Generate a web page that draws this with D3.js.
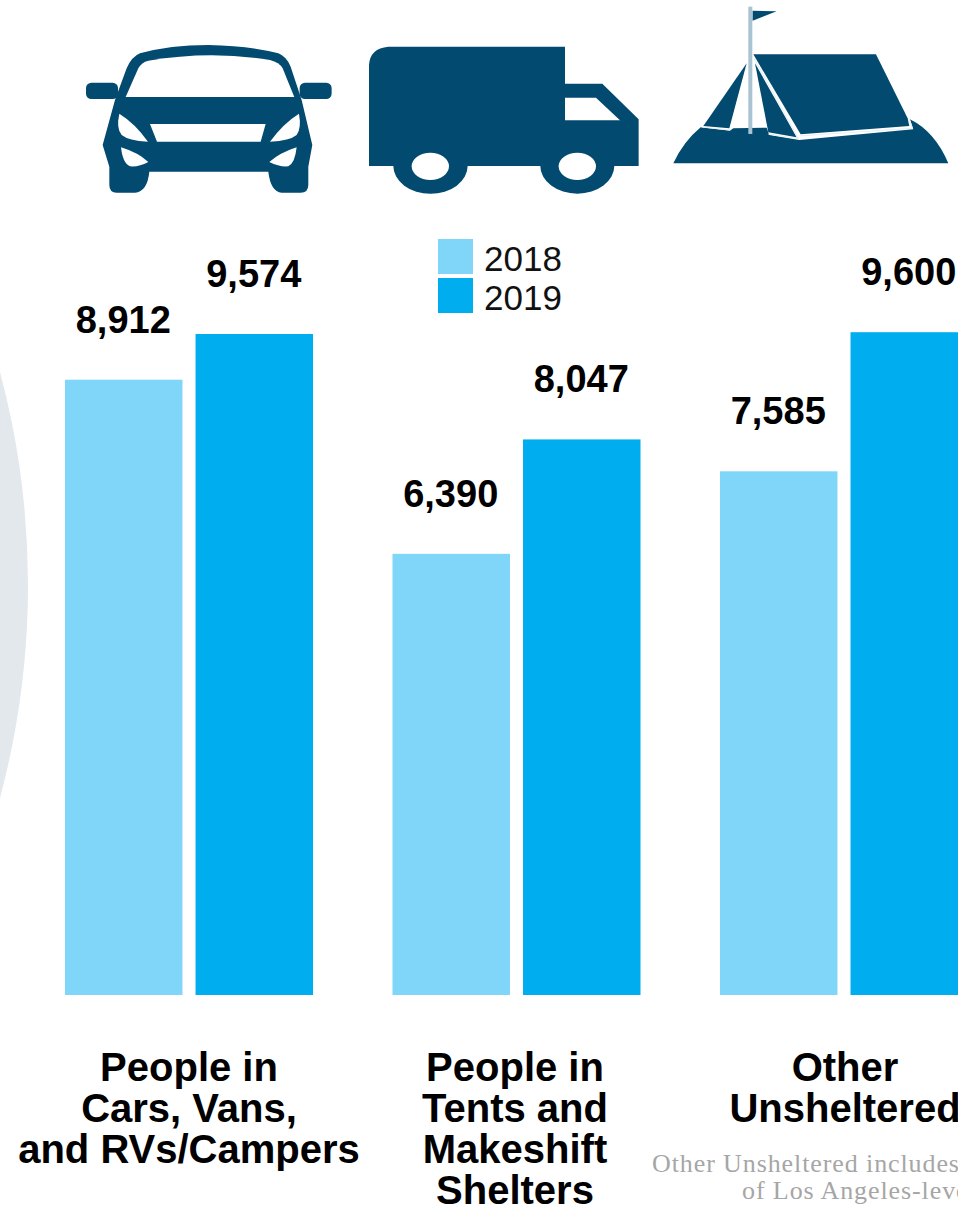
<!DOCTYPE html>
<html><head><meta charset="utf-8">
<style>html,body{margin:0;padding:0;background:#fff;overflow:hidden}svg{display:block}</style>
<script src="https://cdnjs.cloudflare.com/ajax/libs/d3/7.8.5/d3.min.js"></script>
</head><body><svg id="c" width="958" height="1205"></svg>
<script>
const categories = ["cars","tents","other"];
const categoryLines = [["People in","Cars, Vans,","and RVs/Campers"],["People in","Tents and","Makeshift","Shelters"],["Other","Unsheltered"]];
const years = ["2018","2019"];
const values2018 = [8912,6390,7585];
const values2019 = [9574,8047,9600];
const footnote = ["Other Unsheltered includes","of Los Angeles-level"];

const NAVY="#024a70", LIGHT="#7fd6f9", BLUE="#00aeef";
const svg=d3.select("#c");
const sans='"Liberation Sans",Arial,sans-serif';

// background disc
svg.append("circle").attr("cx",-796).attr("cy",585).attr("r",824).attr("fill","#e2e8ec");

// scales
const x0=d3.scaleBand().domain(categories).range([65,968]).paddingInner(0.2427);
const x1=d3.scaleBand().domain(years).range([0,x0.bandwidth()]).paddingInner(0.1);
const y=d3.scaleLinear().domain([0,9574]).range([995,334]);
const color=d3.scaleOrdinal().domain(years).range([LIGHT,BLUE]);
const fmt=d3.format(",");
const rows=categories.flatMap((c,i)=>[{c,year:"2018",v:values2018[i]},{c,year:"2019",v:values2019[i]}]);

svg.selectAll("rect.bar").data(rows).join("rect").attr("class","bar")
 .attr("x",d=>x0(d.c)+x1(d.year)).attr("width",x1.bandwidth())
 .attr("y",d=>y(d.v)).attr("height",d=>y(0)-y(d.v)).attr("fill",d=>color(d.year));

svg.selectAll("text.val").data(rows).join("text").attr("class","val")
 .attr("x",d=>x0(d.c)+x1(d.year)+x1.bandwidth()/2-0.5)
 .attr("y",d=>y(d.v)-47).attr("text-anchor","middle")
 .attr("font-family",sans).attr("font-weight",700).attr("font-size",38)
 .attr("fill","#000").text(d=>fmt(d.v));

// category labels
categories.forEach((c,i)=>{
  categoryLines[i].forEach((l,j)=>{
    svg.append("text").attr("x",x0(c)+x0.bandwidth()/2+[0,-1.5,1][i]).attr("y",1081+j*41)
     .attr("text-anchor","middle").attr("font-family",sans).attr("font-weight",700)
     .attr("font-size",40).attr("fill","#000").text(l);
  });
});

// legend
const lg=svg.append("g");
years.forEach((yr,i)=>{
  lg.append("rect").attr("x",438).attr("y",239+i*39).attr("width",35).attr("height",35).attr("fill",color(yr));
  lg.append("text").attr("x",484).attr("y",271+i*39).attr("font-family",sans).attr("font-size",35).attr("fill","#111").text(yr);
});

// footnote
svg.selectAll("text.note").data(footnote).join("text").attr("class","note")
 .attr("x",(d,i)=>[652,742][i]).attr("y",(d,i)=>[1172,1199][i])
 .attr("font-family",'"Liberation Serif",serif').attr("font-size",26).attr("letter-spacing",0.9).attr("fill","#a6a6a6").text(d=>d);

// car icon (traced in 3x crop coordinates)
const car=svg.append("g").attr("transform","translate(60,0) scale(0.3333)");
car.append("path").attr("fill",NAVY).attr("d","M165 300 L200 205 Q215 170 240 160 Q330 135 445 135 Q570 137 655 160 Q680 170 692 200 L725 300 L757 435 L745 500 L745 555 Q745 578 722 578 L665 578 Q632 575 625 515 L268 515 Q262 575 225 578 L170 578 Q148 578 148 555 L148 500 L128 435 Z");
car.append("rect").attr("fill",NAVY).attr("x",78).attr("y",248).attr("width",96).attr("height",49).attr("rx",16);
car.append("rect").attr("fill",NAVY).attr("x",719).attr("y",248).attr("width",96).attr("height",49).attr("rx",16);
[
 "M197 291 L703 291 L668 205 Q658 187 630 180 Q450 150 265 182 Q245 187 235 205 Z",
 "M178 341 Q225 370 264 425 Q205 422 185 405 Q168 385 178 341 Z",
 "M717 341 Q670 370 630 425 Q690 422 710 405 Q725 385 717 341 Z",
 "M270 372 L617 372 L602 425 L291 425 Z",
 "M183 442 Q235 458 265 486 Q235 502 210 499 Q188 490 183 442 Z",
 "M710 442 Q660 458 628 486 Q660 502 685 499 Q705 490 710 442 Z"
].forEach(d=>car.append("path").attr("fill","#fff").attr("d",d));

// truck icon
const truck=svg.append("g").attr("transform","translate(360,30) scale(0.3333)");
truck.append("path").attr("fill",NAVY).attr("d","M27 408 L27 105 Q30 55 85 50 L615 50 L615 161 L727 161 L836 268 L836 408 L763 408 A111 83 0 0 1 541 408 L323 408 A111 83 0 0 1 100 408 Z");
truck.append("path").attr("fill","#fff").attr("d","M615 203 L708 203 L780 271 L615 271 Z");
truck.append("ellipse").attr("fill","#fff").attr("cx",211).attr("cy",409).attr("rx",56).attr("ry",41);
truck.append("ellipse").attr("fill","#fff").attr("cx",652).attr("cy",409).attr("rx",56).attr("ry",41);

// tent icon
const tent=svg.append("g").attr("transform","translate(640,0) scale(0.3333)");
tent.append("path").attr("fill",NAVY).attr("d","M100 490 Q130 425 182 382 L270 392 L280 385 L380 383 L388 405 L478 420 L820 388 L810 358 Q885 395 925 490 Z");
tent.append("path").attr("fill",NAVY).attr("d","M340 163 L708 163 L803 355 L808 378 L482 403 Z");
tent.append("path").attr("fill",NAVY).attr("d","M190 378 L320 190 L268 385 Z");
tent.append("path").attr("fill",NAVY).attr("d","M345 190 L385 397 L470 412 Z");
tent.append("path").attr("fill","none").attr("stroke","#e8eff3").attr("stroke-width",3.5).attr("d","M185 381 L270 390 M342 175 L475 416 L385 402 M478 408 L817 385 L808 358");
tent.append("rect").attr("x",325).attr("y",20).attr("width",12).attr("height",382).attr("fill","#a9c3d3");
tent.append("path").attr("fill",NAVY).attr("d","M338 32 L410 34 L338 62 Z");
</script></body></html>
